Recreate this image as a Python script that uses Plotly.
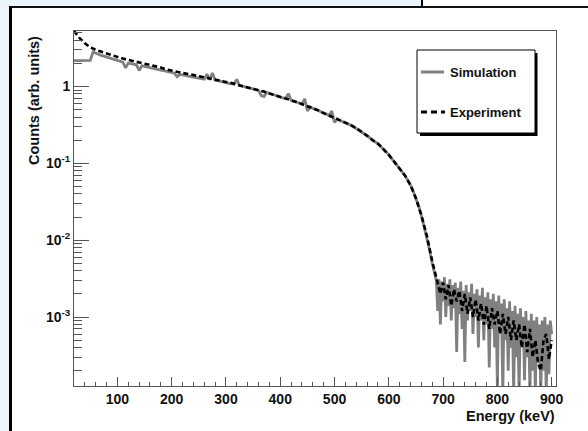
import plotly.graph_objects as go

# ---------------- data ----------------
# 5 keV bins up to 685 keV, 2.5 keV bins in the noisy tail
sim_energy = list(range(20, 690, 5)) + [v / 2 for v in range(1375, 1801, 5)]
sim_counts = [
    2.17, 2.17, 2.18, 2.17, 2.17, 2.18, 2.19, 2.81, 2.70, 2.62,
    2.55, 2.49, 2.43, 2.37, 2.31, 2.25, 2.19, 2.14, 2.08, 1.75,
    2.02, 1.98, 1.95, 1.92, 1.62, 1.86, 1.83, 1.79, 1.76, 1.73,
    1.70, 1.67, 1.64, 1.61, 1.58, 1.55, 1.52, 1.49, 1.34, 1.44,
    1.42, 1.39, 1.37, 1.35, 1.33, 1.31, 1.29, 1.27, 1.25, 1.45,
    1.23, 1.50, 1.21, 1.19, 1.16, 1.14, 1.12, 1.10, 1.08, 1.07,
    1.24, 1.03, 1.01, 0.99, 0.97, 0.95, 0.93, 0.91, 0.89, 0.76,
    0.74, 0.84, 0.82, 0.80, 0.77, 0.75, 0.73, 0.71, 0.70, 0.81,
    0.66, 0.64, 0.63, 0.61, 0.59, 0.69, 0.48, 0.54, 0.52, 0.505,
    0.49, 0.47, 0.45, 0.44, 0.42, 0.48, 0.34, 0.38, 0.36, 0.35,
    0.335, 0.325, 0.315, 0.30, 0.285, 0.272, 0.258, 0.244, 0.229, 0.215,
    0.20, 0.19, 0.18, 0.167, 0.153, 0.141, 0.129, 0.117, 0.105, 0.095,
    0.086, 0.077, 0.069, 0.060, 0.052, 0.043, 0.035, 0.028, 0.021, 0.015,
    0.011, 0.0075, 0.0050, 0.0034,
    # tail, 687.5 .. 900 keV
    0.0030, 0.0012, 0.0031, 0.0008, 0.0029, 0.0016, 0.0033, 0.0010, 0.0027, 0.0014,
    0.0031, 0.0009, 0.0026, 0.0013, 0.0028, 0.00035, 0.0024, 0.0011, 0.0029, 0.0007,
    0.0022, 0.00026, 0.0026, 0.0009, 0.0021, 0.0012, 0.0027, 0.0006, 0.0020, 0.0010,
    0.0023, 0.0004, 0.0019, 0.0009, 0.0024, 0.0005, 0.0018, 0.0008, 0.0021, 0.00022,
    0.0017, 0.0007, 0.0020, 0.0004, 0.0016, 0.00012, 0.0019, 0.0006, 0.0015, 0.0001,
    0.0017, 0.0005, 0.0013, 0.0002, 0.0016, 0.0004, 0.0012, 0.0001, 0.0014, 0.0003,
    0.0011, 0.0001, 0.0013, 0.0004, 0.0010, 0.00015, 0.0012, 0.0003, 0.0009, 0.0001,
    0.0011, 0.0002, 0.0009, 0.0001, 0.0010, 0.00025, 0.0008, 0.0001, 0.0009, 0.0002,
    0.0010, 0.0001, 0.0008, 0.00018, 0.0009, 0.0006,
]

exp_energy = list(range(20, 690, 10)) + list(range(685, 905, 5))  # keV
exp_counts = [
    5.3, 4.3, 3.65, 3.25, 3.0, 2.84, 2.69, 2.53, 2.41, 2.31,
    2.22, 2.14, 2.06, 1.99, 1.90, 1.83, 1.77, 1.67, 1.60, 1.56,
    1.50, 1.46, 1.41, 1.38, 1.34, 1.28, 1.24, 1.18, 1.15, 1.11,
    1.06, 1.02, 0.97, 0.94, 0.90, 0.86, 0.81, 0.77, 0.74, 0.70,
    0.66, 0.63, 0.59, 0.555, 0.525, 0.49, 0.45, 0.42, 0.39, 0.36,
    0.335, 0.315, 0.287, 0.258, 0.229, 0.20, 0.181, 0.153, 0.129, 0.105,
    0.086, 0.069, 0.052, 0.035, 0.021, 0.0115, 0.0053,
    0.0038, 0.0027, 0.0020, 0.0028, 0.0017, 0.0026, 0.0014, 0.0023, 0.0016, 0.0022,
    0.0012, 0.0020, 0.0011, 0.0018, 0.0010, 0.0017, 0.0009, 0.0015, 0.0008, 0.0014,
    0.0007, 0.0013, 0.0008, 0.0012, 0.0006, 0.0011, 0.0006, 0.0010, 0.0005, 0.0009,
    0.0005, 0.0008, 0.0004, 0.0008, 0.00035, 0.0007, 0.0003, 0.0005, 0.00025, 0.0002,
    0.0005, 0.0006, 0.00028, 0.0005,
]

y_major_vals = [1e-3, 1e-2, 1e-1, 1]
y_major_text = ["10<sup>-3</sup>", "10<sup>-2</sup>", "10<sup>-1</sup>", "1"]
y_minor_vals = [m * 10.0 ** e for e in (-4, -3, -2, -1, 0) for m in range(2, 10)]

# ---------------- layout geometry ----------------
W, H = 588, 431
L, R, T, B = 74, 556, 31, 386


def px(x):
    return (x - L) / (R - L)


def py(y):
    return (B - y) / (B - T)


FONT = "Liberation Sans, Arial, Helvetica, sans-serif"
TXT = "#111111"

fig = go.Figure()
fig.add_trace(go.Scatter(
    x=sim_energy, y=sim_counts, mode="lines", name="Simulation",
    line=dict(color="#808080", width=2.8), showlegend=False,
))
fig.add_trace(go.Scatter(
    x=exp_energy, y=exp_counts, mode="lines", name="Experiment",
    line=dict(color="#000000", width=2.6, dash="5px,3px"), showlegend=False,
))

shapes = []
# page background pieces around the figure
shapes.append(dict(type="rect", xref="paper", yref="paper", x0=px(0), x1=px(421), y0=py(0), y1=py(6.5),
                   fillcolor="#eaf4fb", line=dict(width=0), layer="below"))
shapes.append(dict(type="rect", xref="paper", yref="paper", x0=px(0), x1=px(9), y0=py(6), y1=py(431),
                   fillcolor="#eef6fc", line=dict(width=0), layer="below"))
shapes.append(dict(type="line", xref="paper", yref="paper", x0=px(9), x1=px(588), y0=py(7), y1=py(7),
                   line=dict(color="#111111", width=2)))
shapes.append(dict(type="line", xref="paper", yref="paper", x0=px(10.5), x1=px(10.5), y0=py(6), y1=py(431),
                   line=dict(color="#000000", width=3)))
shapes.append(dict(type="line", xref="paper", yref="paper", x0=px(422), x1=px(422), y0=py(0), y1=py(7),
                   line=dict(color="#000000", width=2)))
# legend box with shadow
shapes.append(dict(type="rect", xref="paper", yref="paper", x0=px(420), x1=px(537.5), y0=py(53), y1=py(136),
                   fillcolor="#000000", line=dict(width=0)))
shapes.append(dict(type="rect", xref="paper", yref="paper", x0=px(417), x1=px(535), y0=py(50), y1=py(133),
                   fillcolor="#ffffff", line=dict(color="#000000", width=1)))
shapes.append(dict(type="line", xref="paper", yref="paper", x0=px(421), x1=px(444), y0=py(72), y1=py(72),
                   line=dict(color="#808080", width=3)))
shapes.append(dict(type="line", xref="paper", yref="paper", x0=px(421), x1=px(445), y0=py(112), y1=py(112),
                   line=dict(color="#000000", width=3, dash="6px,4px")))

annotations = [
    dict(text="<b>Simulation</b>", xref="paper", yref="paper", x=px(448), y=py(72.5),
         xanchor="left", yanchor="middle", showarrow=False, font=dict(family=FONT, size=13, color=TXT)),
    dict(text="<b>Experiment</b>", xref="paper", yref="paper", x=px(448), y=py(112.5),
         xanchor="left", yanchor="middle", showarrow=False, font=dict(family=FONT, size=13, color=TXT)),
    dict(text="<b>Energy (keV)</b>", xref="paper", yref="paper", x=px(557), y=py(416),
         xanchor="right", yanchor="middle", showarrow=False, font=dict(family=FONT, size=14.5, color=TXT)),
    dict(text="<b>Counts (arb. units)</b>", xref="paper", yref="paper", x=px(34), y=py(101),
         xanchor="center", yanchor="middle", textangle=-90, showarrow=False,
         font=dict(family=FONT, size=14.5, color=TXT)),
]

fig.update_layout(
    width=W, height=H,
    margin=dict(l=L, r=W - R, t=T, b=H - B, pad=0),
    paper_bgcolor="#ffffff", plot_bgcolor="#ffffff",
    shapes=shapes, annotations=annotations,
    showlegend=False,
)
fig.update_xaxes(
    range=[20, 908], showgrid=False, zeroline=False,
    showline=True, linecolor="#555555", linewidth=1, mirror=True,
    ticks="inside", ticklen=9, tickcolor="#555555", tickwidth=1,
    tick0=0, dtick=100, tickfont=dict(family=FONT, size=14, color=TXT, weight="bold"),
    minor=dict(ticks="inside", ticklen=4, dtick=20, tick0=0, tickcolor="#555555", showgrid=False),
)
fig.update_yaxes(
    type="log", range=[-3.898, 0.723], showgrid=False, zeroline=False,
    showline=True, linecolor="#555555", linewidth=1, mirror=True,
    ticks="inside", ticklen=15, tickcolor="#555555", tickwidth=1,
    tickmode="array", tickvals=y_major_vals, ticktext=y_major_text,
    tickfont=dict(family=FONT, size=14, color=TXT, weight="bold"),
    minor=dict(ticks="inside", ticklen=8, tickmode="array", tickvals=y_minor_vals,
               tickcolor="#555555", showgrid=False),
)

fig.write_html("out.html")
